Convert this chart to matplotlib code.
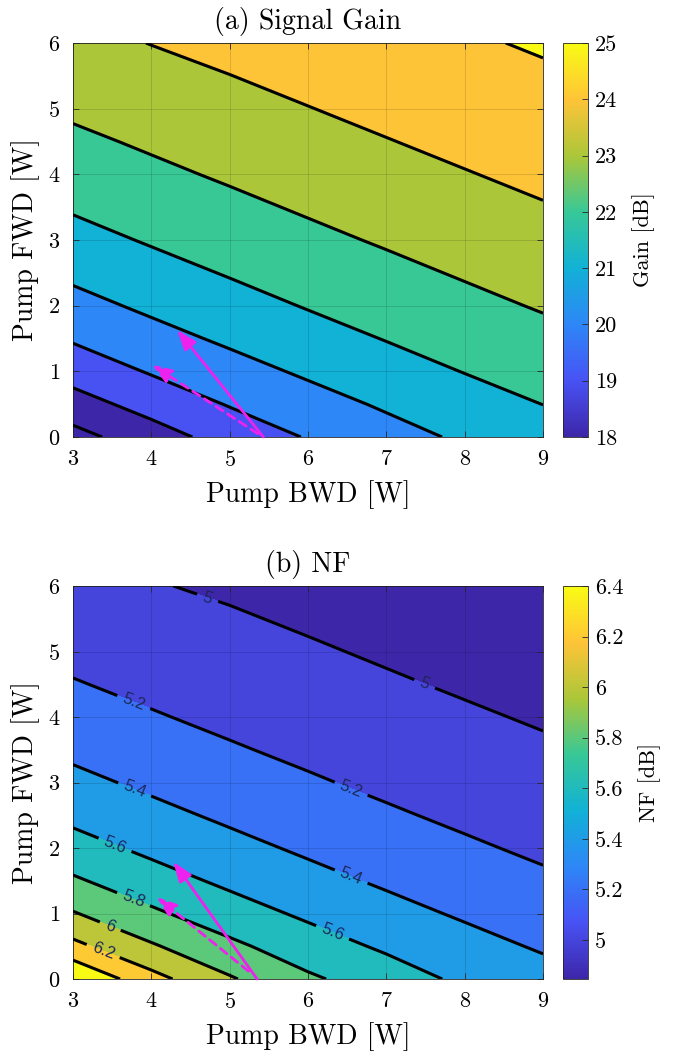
import numpy as np
import matplotlib
matplotlib.use('Agg')
import matplotlib.pyplot as plt
from matplotlib.colors import LinearSegmentedColormap, Normalize
from matplotlib.cm import ScalarMappable
from matplotlib.ticker import FormatStrFormatter

plt.rcParams['font.family'] = ['cmr10', 'DejaVu Serif']
plt.rcParams['axes.formatter.use_mathtext'] = True
plt.rcParams['mathtext.fontset'] = 'cm'

# grid of the two maps (rows = pump FWD, columns = pump BWD)
pump_bwd = [3, 4, 5, 6, 7, 8, 9]
pump_fwd = [0, 0.5, 1, 1.5, 2, 2.5, 3, 3.5, 4, 4.5, 5, 5.5, 6]

gain_db = [
    [17.67, 18.56, 19.40, 20.06, 20.63, 21.15, 21.56],
    [18.59, 19.38, 20.06, 20.61, 21.13, 21.57, 22.01],
    [19.41, 20.08, 20.63, 21.15, 21.59, 22.03, 22.37],
    [20.10, 20.66, 21.17, 21.61, 22.04, 22.39, 22.73],
    [20.68, 21.19, 21.63, 22.06, 22.40, 22.75, 23.08],
    [21.20, 21.65, 22.07, 22.42, 22.76, 23.09, 23.37],
    [21.67, 22.09, 22.43, 22.78, 23.10, 23.38, 23.66],
    [22.10, 22.45, 22.79, 23.11, 23.39, 23.67, 23.95],
    [22.46, 22.81, 23.12, 23.40, 23.68, 23.96, 24.19],
    [22.82, 23.13, 23.41, 23.69, 23.97, 24.20, 24.42],
    [23.15, 23.42, 23.70, 23.98, 24.21, 24.43, 24.65],
    [23.44, 23.72, 23.99, 24.22, 24.44, 24.66, 24.88],
    [23.73, 24.02, 24.23, 24.45, 24.67, 24.89, 25.10],
]

nf_db = [
    [6.600, 6.267, 6.020, 5.830, 5.700, 5.560, 5.473],
    [6.253, 6.022, 5.841, 5.694, 5.569, 5.469, 5.378],
    [6.013, 5.833, 5.689, 5.565, 5.465, 5.375, 5.303],
    [5.826, 5.683, 5.560, 5.460, 5.372, 5.300, 5.228],
    [5.677, 5.556, 5.456, 5.369, 5.297, 5.225, 5.169],
    [5.552, 5.452, 5.366, 5.294, 5.222, 5.167, 5.121],
    [5.448, 5.363, 5.291, 5.219, 5.165, 5.119, 5.072],
    [5.360, 5.288, 5.216, 5.164, 5.117, 5.070, 5.023],
    [5.285, 5.213, 5.162, 5.115, 5.068, 5.021, 4.983],
    [5.210, 5.160, 5.113, 5.066, 5.019, 4.981, 4.949],
    [5.158, 5.111, 5.064, 5.018, 4.980, 4.948, 4.916],
    [5.109, 5.062, 5.016, 4.979, 4.947, 4.915, 4.883],
    [5.060, 5.009, 4.977, 4.945, 4.913, 4.881, 4.849],
]

gain_levels = [18, 19, 20, 21, 22, 23, 24, 25]
nf_levels = [5.0, 5.2, 5.4, 5.6, 5.8, 6.0, 6.2, 6.4]

gain_clim = (18, 25)
nf_clim = (4.846, 6.4)

x_ticks = [3, 4, 5, 6, 7, 8, 9]
y_ticks = [0, 1, 2, 3, 4, 5, 6]
gain_cticks = [18, 19, 20, 21, 22, 23, 24, 25]
nf_cticks = [5.0, 5.2, 5.4, 5.6, 5.8, 6.0, 6.2, 6.4]

# arrows (x start, y start, x end, y end)
gain_arrow_solid = (5.43, 0.0, 4.33, 1.63)
gain_arrow_dash = (5.36, 0.05, 4.01, 1.10)
nf_arrow_solid = (5.35, 0.0, 4.28, 1.79)
nf_arrow_dash = (5.24, 0.12, 4.07, 1.25)

# where the NF contour labels sit
nf_label_pos = [(4.71, 5.79), (7.47, 4.45), (3.77, 4.21), (6.54, 2.87),
                (3.77, 2.84), (6.54, 1.53), (3.51, 1.97), (6.30, 0.67),
                (3.77, 1.21), (3.47, 0.79), (3.39, 0.44)]

# parula-like colormap
parula = LinearSegmentedColormap.from_list('parula', [
    (0.2422, 0.1504, 0.6603), (0.2810, 0.3228, 0.9579),
    (0.1786, 0.5289, 0.9682), (0.0689, 0.6948, 0.8394),
    (0.2161, 0.7843, 0.5923), (0.6720, 0.7793, 0.2227),
    (0.9970, 0.7659, 0.2199), (0.9769, 0.9839, 0.0805)], N=256)

X, Y = np.meshgrid(pump_bwd, pump_fwd)
axcol = '#262626'
magenta = '#ee22ee'


def panel(ax, cax, z, levels, clim, title, clabel, cticks, arrows, label_pos=None):
    z = np.array(z)
    norm = Normalize(vmin=clim[0], vmax=clim[1], clip=True)
    fill_levels = [min(z.min(), levels[0]) - 0.5] + levels + [max(z.max(), levels[-1]) + 0.5]
    cols = [parula(norm(v)) for v in fill_levels[:-1]]
    ax.contourf(X, Y, z, levels=fill_levels, colors=cols)
    cs = ax.contour(X, Y, z, levels=levels, colors='k', linewidths=2.2, zorder=3)
    if label_pos is not None:
        txts = ax.clabel(cs, fmt='%g', manual=label_pos, fontsize=12,
                         colors='#1c2858', inline=True, inline_spacing=7)
        for t in txts:
            t.set_fontfamily(['Liberation Sans', 'DejaVu Sans'])
    for (x0, y0, x1, y1), ls in arrows:
        ax.annotate('', xy=(x1, y1), xytext=(x0, y0),
                    arrowprops=dict(arrowstyle='-|>,head_length=0.6,head_width=0.22',
                                    color=magenta, lw=2.0, linestyle=ls,
                                    mutation_scale=20, shrinkA=0, shrinkB=0), zorder=5)
    ax.set_xlim(3, 9)
    ax.set_ylim(0, 6)
    ax.set_xticks(x_ticks)
    ax.set_yticks(y_ticks)
    ax.grid(True, color='k', alpha=0.15, lw=0.6)
    ax.set_axisbelow(False)
    ax.tick_params(direction='in', length=4, width=0.6, top=True, right=True,
                   labelsize=16, pad=9, color=axcol)
    for s in ax.spines.values():
        s.set_color(axcol)
        s.set_linewidth(0.6)
    ax.set_title(title, fontsize=20, pad=10)
    ax.set_xlabel('Pump BWD [W]', fontsize=20, labelpad=8)
    ax.set_ylabel('Pump FWD [W]', fontsize=20, labelpad=6)

    cb = plt.colorbar(ScalarMappable(norm=norm, cmap=parula), cax=cax)
    cb.set_ticks(cticks)
    cb.ax.yaxis.set_major_formatter(FormatStrFormatter('%g'))
    cax.tick_params(direction='in', length=4, width=0.6, labelsize=16, pad=5, color=axcol)
    cb.outline.set_linewidth(0.6)
    cb.outline.set_edgecolor(axcol)
    cb.set_label(clabel, fontsize=16, labelpad=11)


fig = plt.figure(figsize=(6.8, 10.55), dpi=100)
W, H = 680, 1055
ax_a = fig.add_axes([73 / W, 1 - 437 / H, 470 / W, 394 / H])
cax_a = fig.add_axes([563 / W, 1 - 437 / H, 25 / W, 394 / H])
ax_b = fig.add_axes([73 / W, 1 - 979 / H, 470 / W, 393 / H])
cax_b = fig.add_axes([563 / W, 1 - 979 / H, 25 / W, 393 / H])

panel(ax_a, cax_a, gain_db, gain_levels, gain_clim, '(a) Signal Gain', 'Gain [dB]',
      gain_cticks, [(gain_arrow_solid, '-'), (gain_arrow_dash, (0, (3, 2)))])
panel(ax_b, cax_b, nf_db, nf_levels, nf_clim, '(b) NF', 'NF [dB]',
      nf_cticks, [(nf_arrow_solid, '-'), (nf_arrow_dash, (0, (3, 2)))], nf_label_pos)

fig.savefig('out.png', dpi=100)
